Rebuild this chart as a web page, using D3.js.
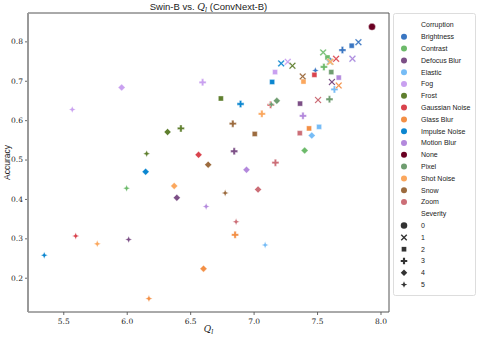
<!DOCTYPE html>
<html>
<head>
<meta charset="utf-8">
<script src="https://cdn.jsdelivr.net/npm/d3@7"></script>
<style>
  body { margin: 0; background: #fff; }
  svg text { fill: #222; }
</style>
</head>
<body>
<svg id="chart" width="478" height="338"></svg>
<script>
// Scatter of Swin-B accuracy against the ConvNext-B quality score per corruption / severity.
const corruptions = ["Brightness", "Contrast", "Defocus Blur", "Elastic", "Fog", "Frost",
    "Gaussian Noise", "Glass Blur", "Impulse Noise", "Motion Blur", "None", "Pixel",
    "Shot Noise", "Snow", "Zoom"];
const palette = ["#3a76c2", "#6cba6a", "#7c4f86", "#76bcf6", "#c9a0f0", "#5f7f2e",
    "#d9434d", "#f38f45", "#0b86d0", "#b388dc", "#6a0022", "#6f9d70",
    "#fba75d", "#9c6b3e", "#cc6e77"];
const severities = [0, 1, 2, 3, 4, 5];

// Q_l values, one row per corruption, severities 1..5 (None has only severity 0)
const qlValues = [
    [7.826, 7.773, 7.700, 7.600, 7.487],
    [7.548, 7.582, 7.554, 7.402, 5.999],
    [7.617, 7.366, 6.847, 6.395, 6.015],
    [7.779, 7.516, 7.637, 7.458, 7.091],
    [7.269, 7.169, 6.598, 5.960, 5.571],
    [7.306, 6.742, 6.427, 6.322, 6.157],
    [7.650, 7.479, 7.135, 6.566, 5.598],
    [7.671, 7.437, 6.854, 6.605, 6.175],
    [7.217, 7.146, 6.897, 6.149, 5.350],
    [7.779, 7.671, 7.389, 6.944, 6.626],
    [7.933],
    [7.600, 7.612, 7.598, 7.183, 7.140],
    [7.606, 7.393, 7.065, 6.374, 5.768],
    [7.387, 7.009, 6.836, 6.642, 6.776],
    [7.508, 7.364, 7.172, 7.035, 6.862]
];
// Accuracy values, same layout
const accValues = [
    [0.798, 0.789, 0.778, 0.752, 0.726],
    [0.772, 0.759, 0.735, 0.523, 0.427],
    [0.697, 0.642, 0.521, 0.403, 0.297],
    [0.756, 0.583, 0.678, 0.561, 0.283],
    [0.748, 0.722, 0.696, 0.683, 0.627],
    [0.738, 0.655, 0.579, 0.570, 0.515],
    [0.756, 0.715, 0.639, 0.512, 0.306],
    [0.688, 0.579, 0.309, 0.223, 0.147],
    [0.744, 0.697, 0.641, 0.469, 0.257],
    [0.756, 0.708, 0.611, 0.474, 0.381],
    [0.837],
    [0.748, 0.722, 0.653, 0.649, 0.640],
    [0.748, 0.698, 0.616, 0.433, 0.286],
    [0.711, 0.565, 0.591, 0.487, 0.415],
    [0.651, 0.567, 0.492, 0.424, 0.342]
];
const xTicks = [5.5, 6.0, 6.5, 7.0, 7.5, 8.0];
const yTicks = [0.2, 0.3, 0.4, 0.5, 0.6, 0.7, 0.8];

const margin = { top: 13, right: 89, bottom: 26, left: 28 };
const width = 478, height = 338;

const points = [];
corruptions.forEach((c, i) => {
    qlValues[i].forEach((q, j) => {
        points.push({
            corruption: c,
            severity: c === "None" ? 0 : j + 1,
            ql: q,
            acc: accValues[i][j]
        });
    });
});

const x = d3.scaleLinear().domain([5.222, 8.067]).range([margin.left, width - margin.right]);
const y = d3.scaleLinear().domain([0.113, 0.872]).range([height - margin.bottom, margin.top]);
const color = d3.scaleOrdinal().domain(corruptions).range(palette);

// seaborn-like marker shapes, s = nominal size in px
function markerPath(sev, s) {
    const h = s / 2;
    if (sev === 0) {
        return d3.symbol(d3.symbolCircle, Math.PI * h * h)();
    }
    if (sev === 1) { // filled X
        const a = h, b = h * 0.3;
        const pts = [[-a, -a + b], [-a + b, -a], [0, -b], [a - b, -a], [a, -a + b], [b, 0],
            [a, a - b], [a - b, a], [0, b], [-a + b, a], [-a, a - b], [-b, 0]];
        return "M" + pts.map(p => p.join(",")).join("L") + "Z";
    }
    if (sev === 2) { // square
        const r = h * 0.72;
        return `M${-r},${-r}L${r},${-r}L${r},${r}L${-r},${r}Z`;
    }
    if (sev === 3) { // filled plus
        const a = h, b = h * 0.33;
        const pts = [[-b, -a], [b, -a], [b, -b], [a, -b], [a, b], [b, b], [b, a], [-b, a],
            [-b, b], [-a, b], [-a, -b], [-b, -b]];
        return "M" + pts.map(p => p.join(",")).join("L") + "Z";
    }
    if (sev === 4) { // diamond
        return `M0,${-h}L${h},0L0,${h}L${-h},0Z`;
    }
    // four-pointed star
    const ri = h * 0.42;
    const pts = [];
    for (let k = 0; k < 8; k++) {
        const ang = -Math.PI / 2 + k * Math.PI / 4;
        const r = k % 2 === 0 ? h : ri;
        pts.push([r * Math.cos(ang), r * Math.sin(ang)]);
    }
    return "M" + pts.map(p => p.join(",")).join("L") + "Z";
}

const svg = d3.select("#chart");

// axes
const xAxis = svg.append("g")
    .attr("transform", `translate(0,${height - margin.bottom})`)
    .call(d3.axisBottom(x).tickValues(xTicks).tickFormat(d3.format(".1f")).tickSize(3).tickPadding(4));
const yAxis = svg.append("g")
    .attr("transform", `translate(${margin.left},0)`)
    .call(d3.axisLeft(y).tickValues(yTicks).tickFormat(d3.format(".1f")).tickSize(3).tickPadding(2));

[xAxis, yAxis].forEach(g => {
    g.select(".domain").remove();
    g.selectAll(".tick line").attr("stroke", "#444").attr("stroke-width", 0.8);
    g.selectAll(".tick text")
        .style("font-family", "'DejaVu Serif', 'Liberation Serif', serif")
        .style("font-size", "7.5px")
        .attr("fill", "#555");
});

// frame
const x0 = margin.left, x1 = width - margin.right;
const y0 = margin.top, y1 = height - margin.bottom;
svg.append("line").attr("x1", x0).attr("x2", x1).attr("y1", y0).attr("y2", y0)
    .attr("stroke", "#555").attr("stroke-width", 1);
svg.append("line").attr("x1", x1).attr("x2", x1).attr("y1", y0).attr("y2", y1)
    .attr("stroke", "#555").attr("stroke-width", 1);
svg.append("line").attr("x1", x0).attr("x2", x1).attr("y1", y1).attr("y2", y1)
    .attr("stroke", "#555").attr("stroke-width", 1);
svg.append("line").attr("x1", x0).attr("x2", x0).attr("y1", y0).attr("y2", y1)
    .attr("stroke", "#999").attr("stroke-width", 2);

// points
svg.append("g").selectAll("path")
    .data(points)
    .enter()
    .append("path")
    .attr("transform", d => `translate(${x(d.ql)},${y(d.acc)})`)
    .attr("d", d => markerPath(d.severity, 7))
    .attr("fill", d => color(d.corruption))
    .attr("stroke", "#fff")
    .attr("stroke-width", 0.4);

// title and labels
const title = svg.append("text")
    .attr("x", (x0 + x1) / 2)
    .attr("y", 10)
    .attr("text-anchor", "middle")
    .style("font-family", "'Liberation Sans', sans-serif")
    .style("font-size", "9.5px");
title.append("tspan").text("Swin-B vs. ");
title.append("tspan")
    .style("font-family", "'DejaVu Serif', serif")
    .style("font-style", "italic")
    .text("Q");
title.append("tspan")
    .attr("dy", 2)
    .style("font-family", "'DejaVu Serif', serif")
    .style("font-style", "italic")
    .style("font-size", "6.5px")
    .text("l");
title.append("tspan")
    .attr("dy", -2)
    .text(" (ConvNext-B)");

svg.append("text")
    .attr("transform", `translate(10,${(y0 + y1) / 2}) rotate(-90)`)
    .attr("text-anchor", "middle")
    .style("font-family", "'Liberation Sans', sans-serif")
    .style("font-size", "8.5px")
    .text("Accuracy");

const xl = svg.append("text")
    .attr("x", (x0 + x1) / 2)
    .attr("y", 332)
    .attr("text-anchor", "middle")
    .style("font-family", "'DejaVu Serif', serif")
    .style("font-style", "italic")
    .style("font-size", "9px")
    .text("Q");
xl.append("tspan").attr("dy", 2).style("font-size", "6.5px").text("l");

// legend
const legend = svg.append("g");
legend.append("rect")
    .attr("x", 393.5).attr("y", 13.5)
    .attr("width", 82).attr("height", 282)
    .attr("rx", 2)
    .attr("fill", "#fff")
    .attr("stroke", "#ddd");

const rowH = 11.8;
const legendRows = [{ label: "Corruption" }]
    .concat(corruptions.map(c => ({ label: c, color: color(c) })))
    .concat([{ label: "Severity" }])
    .concat(severities.map(s => ({ label: String(s), sev: s })));

const rows = legend.selectAll("g.row")
    .data(legendRows)
    .enter()
    .append("g")
    .attr("transform", (d, i) => `translate(0,${25 + i * rowH})`);

rows.append("text")
    .attr("x", 421)
    .attr("y", 0)
    .attr("dy", "0.35em")
    .style("font-family", "'Liberation Sans', sans-serif")
    .style("font-size", "7px")
    .text(d => d.label);

rows.filter(d => d.color)
    .append("circle")
    .attr("cx", 404).attr("cy", 0).attr("r", 3)
    .attr("fill", d => d.color);

rows.filter(d => d.sev !== undefined)
    .append("path")
    .attr("transform", "translate(404,0)")
    .attr("d", d => markerPath(d.sev, 6.5))
    .attr("fill", "#333");
</script>
</body>
</html>
